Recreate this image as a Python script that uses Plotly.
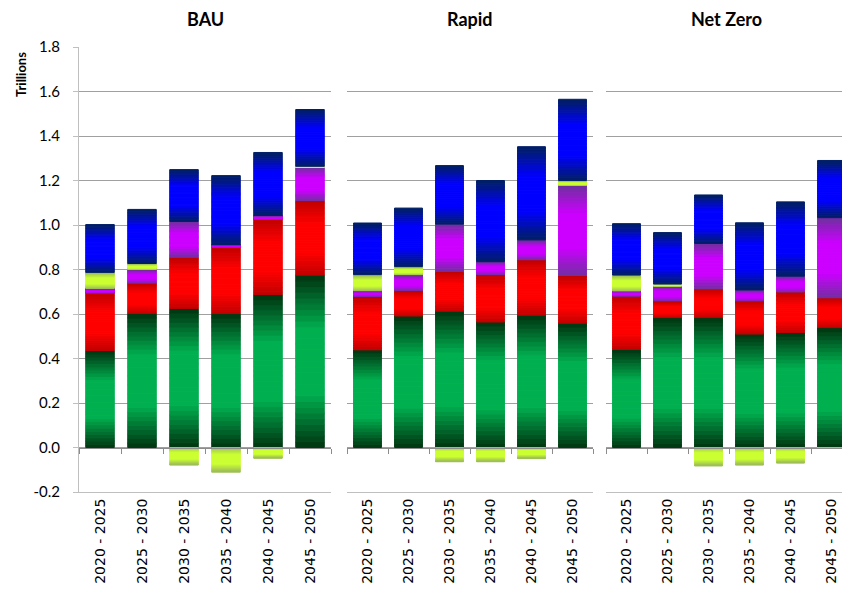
import plotly.graph_objects as go

categories = ["2020 - 2025", "2025 - 2030", "2030 - 2035", "2035 - 2040", "2040 - 2045", "2045 - 2050"]
panel_titles = ["BAU", "Rapid", "Net Zero"]
y_tick_values = [-0.2, 0.0, 0.2, 0.4, 0.6, 0.8, 1.0, 1.2, 1.4, 1.6, 1.8]
y_tick_labels = ["-0.2", "0.0", "0.2", "0.4", "0.6", "0.8", "1.0", "1.2", "1.4", "1.6", "1.8"]

bau_green = [0.436, 0.602, 0.625, 0.602, 0.688, 0.775]
bau_red = [0.259, 0.137, 0.230, 0.298, 0.338, 0.335]
bau_magenta = [0.020, 0.061, 0.161, 0.012, 0.017, 0.150]
bau_yellow = [0.072, 0.027, -0.079, -0.111, -0.048, 0.004]
bau_blue = [0.215, 0.243, 0.233, 0.310, 0.283, 0.255]

rapid_green = [0.439, 0.591, 0.613, 0.564, 0.595, 0.559]
rapid_red = [0.241, 0.115, 0.179, 0.213, 0.249, 0.214]
rapid_magenta = [0.025, 0.071, 0.212, 0.058, 0.089, 0.405]
rapid_yellow = [0.072, 0.036, -0.064, -0.064, -0.050, 0.022]
rapid_blue = [0.232, 0.263, 0.263, 0.365, 0.419, 0.365]

nz_green = [0.441, 0.584, 0.584, 0.510, 0.517, 0.539]
nz_red = [0.240, 0.075, 0.129, 0.149, 0.182, 0.134]
nz_magenta = [0.023, 0.067, 0.204, 0.049, 0.071, 0.360]
nz_yellow = [0.071, 0.009, -0.083, -0.079, -0.070, -0.004]
nz_blue = [0.231, 0.231, 0.218, 0.302, 0.334, 0.257]

panels = [
    [bau_green, bau_red, bau_magenta, bau_yellow, bau_blue],
    [rapid_green, rapid_red, rapid_magenta, rapid_yellow, rapid_blue],
    [nz_green, nz_red, nz_magenta, nz_yellow, nz_blue],
]

# (edge colour, centre colour) for the vertical gradient of each series
gradients = [
    ((0, 51, 16), (0, 176, 80)),
    ((192, 0, 0), (255, 0, 0)),
    ((112, 48, 160), (204, 0, 255)),
    ((155, 187, 89), (204, 255, 51)),
    ((0, 32, 96), (0, 0, 255)),
]

N = 30
W, H = 842, 592
y_top_px, y_bot_px = 47, 492
ydom = [(H - y_bot_px) / H, (H - y_top_px) / H]
xdoms = [[79 / W, 331 / W],
         [347 / W, 593 / W],
         [606 / W, 1.0]]
xranges = [[-0.5, 5.5], [-0.5, 5.5], [-0.5, -0.5 + (W - 606) / 41.0]]


def mix(c1, c2, s):
    return "rgb(%d,%d,%d)" % tuple(round(a + (b - a) * s) for a, b in zip(c1, c2))


fig = go.Figure()
for p, series in enumerate(panels):
    xa = "x" if p == 0 else "x%d" % (p + 1)
    ya = "y" if p == 0 else "y%d" % (p + 1)
    for vals, (edge, centre) in zip(series, gradients):
        for i in range(N):
            t = (i + 0.5) / N
            s = min(1.0, 1.6 * (1 - abs(2 * t - 1)))
            col = mix(edge, centre, s)
            fig.add_trace(go.Bar(
                x=categories, y=[v / N for v in vals],
                marker=dict(color=col, line=dict(color=col, width=1)),
                xaxis=xa, yaxis=ya, showlegend=False, hoverinfo="skip",
            ))

grid = "#A0A0A0"
light = "#BFBFBF"
zero_pos = ydom[0] + 0.1 * (ydom[1] - ydom[0])

layout = dict(
    width=W, height=H,
    margin=dict(l=0, r=0, t=0, b=0, autoexpand=False),
    paper_bgcolor="white", plot_bgcolor="white",
    barmode="relative", bargap=0.32,
    showlegend=False, hovermode=False,
)

for p in range(3):
    sx = "" if p == 0 else str(p + 1)
    layout["xaxis" + sx] = dict(
        domain=xdoms[p], anchor="y" + sx, type="category", automargin=False,
        range=xranges[p], showgrid=False, showline=True, linecolor=light,
        ticks="", tickangle=-90,
        tickfont=dict(family="DejaVu Sans", size=14, color="#000000"),
    )
    layout["yaxis" + sx] = dict(
        domain=ydom, anchor="x" + sx, range=[-0.2, 1.8],
        tickmode="array", tickvals=y_tick_values, ticktext=y_tick_labels,
        automargin=False,
        showgrid=True, gridcolor=grid, gridwidth=1,
        zeroline=False, showticklabels=(p == 0),
        showline=(p == 0), linecolor=light,
        ticks="outside" if p == 0 else "", ticklen=5, tickcolor=light,
        ticklabelstandoff=10,
        tickfont=dict(family="Lato", size=15, color="#000000"),
    )
    if p > 0:
        layout["yaxis" + sx]["matches"] = "y"
    # zero line with boundary tick marks
    layout["xaxis%d" % (p + 4)] = dict(
        overlaying="x" + sx, anchor="free", position=zero_pos, automargin=False,
        range=xranges[p], tickmode="array",
        tickvals=[k - 0.5 for k in range(7)],
        showgrid=False, zeroline=False, showline=True, linecolor="#8C8C8C",
        ticks="outside", ticklen=5, tickcolor="#8C8C8C", showticklabels=False,
    )
    fig.add_trace(go.Scatter(x=[None], y=[None], xaxis="x%d" % (p + 4),
                             yaxis="y" + sx, showlegend=False, hoverinfo="skip"))

fig.update_layout(**layout)

centres = [205 / W, 470 / W, 726 / W]
for c, title in zip(centres, panel_titles):
    fig.add_annotation(x=c, y=(H - 19) / H, xref="paper", yref="paper",
                       xanchor="center", yanchor="middle",
                       text="<b>%s</b>" % title, showarrow=False,
                       font=dict(family="Lato", size=18, color="#000000"))

fig.add_annotation(x=21 / W, y=(H - 75) / H, xref="paper", yref="paper",
                   xanchor="center", yanchor="middle",
                   text="<b>Trillions</b>", textangle=-90, showarrow=False,
                   font=dict(family="Lato", size=13, color="#000000"))

fig.write_html(
    "out.html",
    config={"displayModeBar": False, "staticPlot": True},
    post_script="document.body.style.margin='0';document.body.style.overflow='hidden';",
)
